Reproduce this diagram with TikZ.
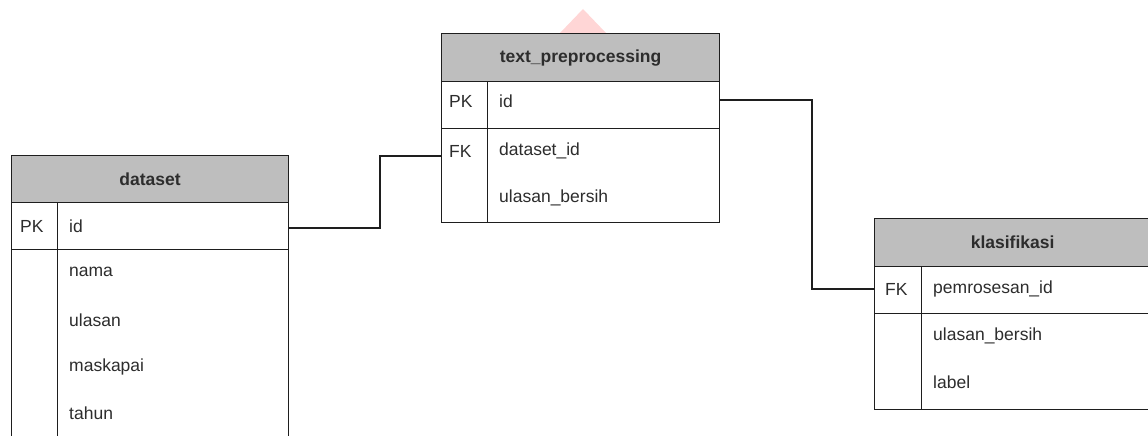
\documentclass[tikz,border=0pt]{standalone}
\usepackage{fontspec}
\setmainfont{Liberation Sans}
\definecolor{lc}{RGB}{30,30,30}
\definecolor{hdrc}{RGB}{190,190,190}
\definecolor{tc}{RGB}{45,45,45}
\definecolor{wm}{RGB}{255,214,214}
\begin{document}
\begin{tikzpicture}[x=1pt,y=-1pt,
  hdr/.style={draw=lc, fill=hdrc, line width=1.2pt, inner sep=0pt, anchor=north west,
    text=tc, font=\fontsize{17.5}{21}\selectfont\bfseries},
  cell/.style={draw=lc, fill=white, line width=1.2pt, inner sep=0pt, anchor=north west},
  txt/.style={anchor=west, inner sep=0pt, text=tc, font=\fontsize{17.5}{21}\selectfont},
  conn/.style={draw=lc, line width=1.2pt}]
\useasboundingbox (0,0) rectangle (1148,436);
\clip (0,0) rectangle (1148,436);
\fill[wm] (560,33) -- (583,9) -- (606,33) -- cycle;
% dataset
\node[hdr, minimum width=277pt, minimum height=47pt] (dsh) at (11,155) {dataset};
\node[cell, minimum width=46pt, minimum height=47pt] (dsk1) at (11,202) {};
\node[cell, minimum width=231pt, minimum height=47pt] (dsr1) at (57,202) {};
\node[cell, minimum width=46pt, minimum height=220pt] (dsk2) at (11,249) {};
\node[cell, minimum width=231pt, minimum height=220pt] (dsr2) at (57,249) {};
\node[txt] (dspk) at (20,226) {PK};
\node[txt] (dsid) at (69,226) {id};
\node[txt] (dsnama) at (69,272) {nama};
\node[txt] (dsulasan) at (69,320) {ulasan};
\node[txt] (dsmask) at (69,367) {maskapai};
\node[txt] (dstahun) at (69,413) {tahun};
% text_preprocessing
\node[hdr, minimum width=278pt, minimum height=48pt] (tph) at (441,33) {text\_preprocessing};
\node[cell, minimum width=46pt, minimum height=47pt] (tpk1) at (441,81) {};
\node[cell, minimum width=232pt, minimum height=47pt] (tpr1) at (487,81) {};
\node[cell, minimum width=46pt, minimum height=94pt] (tpk2) at (441,128) {};
\node[cell, minimum width=232pt, minimum height=94pt] (tpr2) at (487,128) {};
\node[txt] (tppk) at (449,101) {PK};
\node[txt] (tpid) at (499,101) {id};
\node[txt] (tpfk) at (449,151) {FK};
\node[txt] (tpdsid) at (499,151) {dataset\_id};
\node[txt] (tpul) at (499,198) {ulasan\_bersih};
% klasifikasi
\node[hdr, minimum width=290pt, minimum height=48pt] (klh) at (874,218) {\hspace*{-14pt}klasifikasi};
\node[cell, minimum width=47pt, minimum height=47pt] (klk1) at (874,266) {};
\node[cell, minimum width=243pt, minimum height=47pt] (klr1) at (921,266) {};
\node[cell, minimum width=47pt, minimum height=96pt] (klk2) at (874,313) {};
\node[cell, minimum width=243pt, minimum height=96pt] (klr2) at (921,313) {};
\node[txt] (klfk) at (885,289) {FK};
\node[txt] (klpid) at (933,289) {pemrosesan\_id};
\node[txt] (klul) at (933,336) {ulasan\_bersih};
\node[txt] (kllab) at (933,382) {label};
% connectors
\coordinate (dsout) at (288,228);
\coordinate (tpin) at (441,156);
\coordinate (tpout) at (719,100);
\coordinate (klin) at (874,289);
\draw[conn] (dsout) -- (380,228) |- (tpin);
\draw[conn] (tpout) -- (812,100) |- (klin);
\end{tikzpicture}
\end{document}
